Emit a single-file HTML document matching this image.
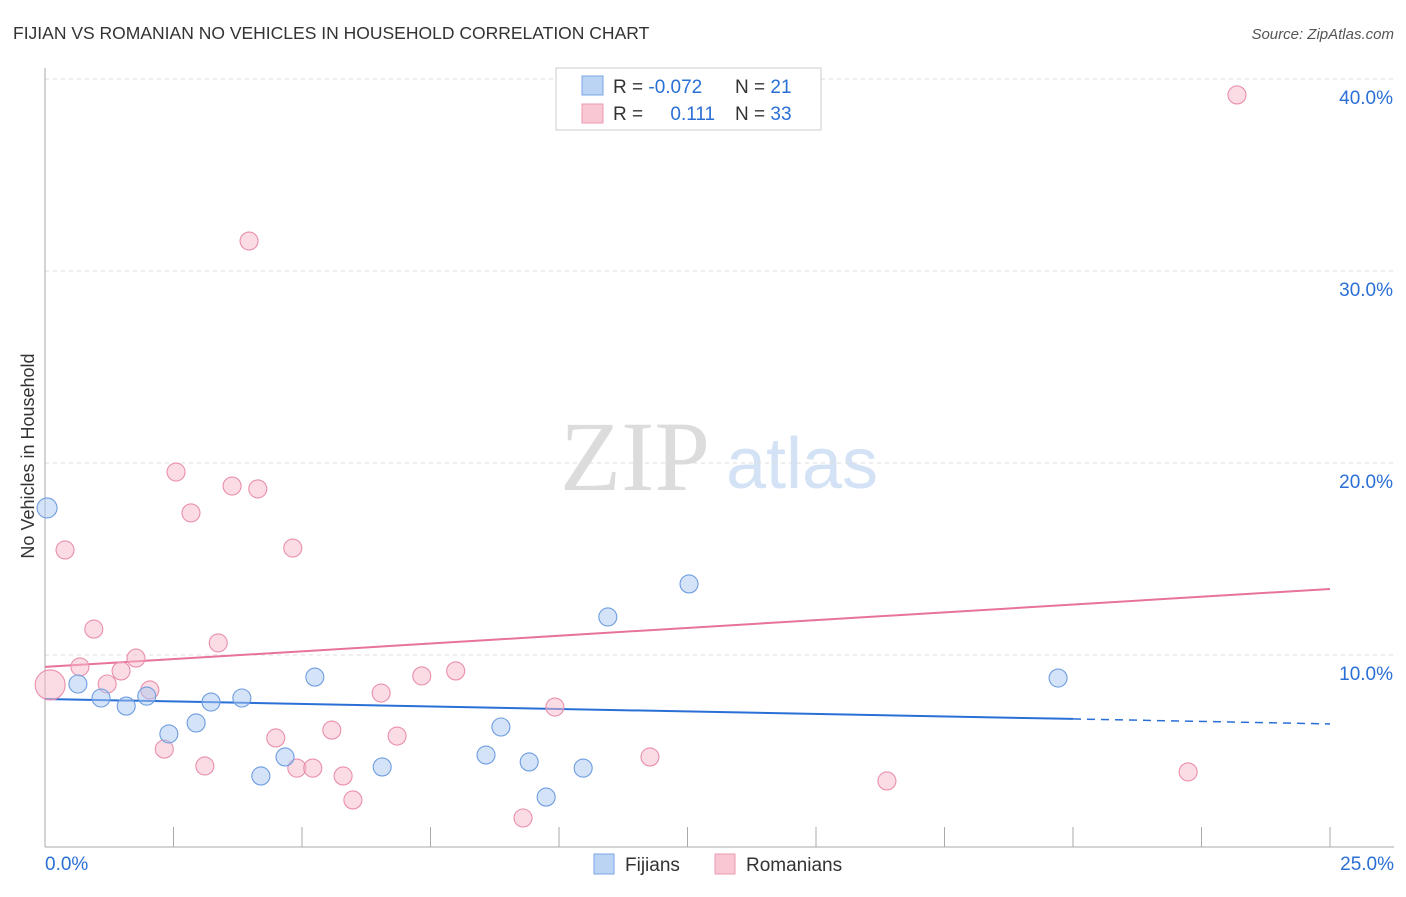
<!DOCTYPE html>
<html><head><meta charset="utf-8"><style>
body{margin:0;background:#fff;font-family:"Liberation Sans",sans-serif;}
svg text{font-family:"Liberation Sans",sans-serif;}
</style></head><body>
<svg id="chart" width="1406" height="892" viewBox="0 0 1406 892">
<text x="13" y="39" font-size="17.5" fill="#333">FIJIAN VS ROMANIAN NO VEHICLES IN HOUSEHOLD CORRELATION CHART</text>
<text x="1394" y="39" font-size="15" fill="#555" text-anchor="end" font-style="italic">Source: ZipAtlas.com</text>
<text transform="translate(34,456) rotate(-90)" font-size="18" fill="#333" text-anchor="middle">No Vehicles in Household</text>
<g>
<text x="635" y="490" font-size="100" fill="#dcdcdc" text-anchor="middle" style="font-family:'Liberation Serif',serif">ZIP</text>
<text x="802" y="488" font-size="72" fill="#d4e2f6" text-anchor="middle">atlas</text>
</g>
<g id="grid"></g><g id="axes"></g><g id="lines"></g><g id="points"></g>
<g>
<rect x="556" y="68" width="265" height="62" fill="#fff" stroke="#ccc"/>
<rect x="582" y="76" width="21" height="19" fill="#bcd4f4" stroke="#7aa6e4"/>
<rect x="582" y="104" width="21" height="19" fill="#f9c6d4" stroke="#ec9ab2"/>
<text x="613" y="93" font-size="19" fill="#333">R = <tspan fill="#2a6fd6">-0.072</tspan></text>
<text x="735" y="93" font-size="19" fill="#333">N = <tspan fill="#2a6fd6"> 21</tspan></text>
<text x="613" y="120" font-size="19" fill="#333">R = <tspan fill="#2a6fd6" dx="22">0.111</tspan></text>
<text x="735" y="120" font-size="19" fill="#333">N = <tspan fill="#2a6fd6">33</tspan></text>
</g>
<g>
<rect x="594" y="854" width="20" height="20" fill="#bcd4f4" stroke="#7aa6e4"/>
<text x="625" y="871" font-size="19" fill="#333">Fijians</text>
<rect x="715" y="854" width="20" height="20" fill="#f9c6d4" stroke="#ec9ab2"/>
<text x="746" y="871" font-size="19" fill="#333">Romanians</text>
</g>
</svg>
<script>
const yTicks=[10,20,30,40];
const yTickLabels=["10.0%","20.0%","30.0%","40.0%"];
const xTickVals=[0,2.5,5,7.5,10,12.5,15,17.5,20,22.5,25];
const fijianX=[0.04,0.64,1.09,1.58,1.98,2.41,2.94,3.23,3.83,4.2,4.67,5.25,6.56,8.58,8.87,9.42,9.75,10.47,10.95,12.53,19.71];
const fijianY=[17.66,8.49,7.76,7.34,7.86,5.89,6.46,7.55,7.76,3.70,4.69,8.85,4.17,4.79,6.25,4.43,2.60,4.11,11.98,13.70,8.80];
const romanianX=[0.1,0.39,0.95,0.68,1.21,1.48,1.77,2.04,2.32,2.55,2.84,3.11,3.37,3.64,3.97,4.14,4.49,4.82,4.9,5.21,5.58,5.8,5.99,6.54,6.85,7.33,7.99,9.3,9.92,11.77,16.38,22.24,23.19];
const romanianY=[8.44,15.47,11.35,9.38,8.49,9.17,9.84,8.18,5.10,19.53,17.40,4.22,10.63,18.80,31.56,18.65,5.68,15.57,4.11,4.11,6.09,3.70,2.45,8.02,5.78,8.91,9.17,1.51,7.29,4.69,3.44,3.91,39.17];
const fijianTrend=[7.71,6.41];
const romanianTrend=[9.38,13.44];
const NS="http://www.w3.org/2000/svg";
const xs=v=>45+v/25*1285, ys=v=>847-v*19.2;
function mk(p,t,a){const e=document.createElementNS(NS,t);for(const k in a)e.setAttribute(k,a[k]);p.appendChild(e);return e;}
const grid=document.getElementById('grid'),axes=document.getElementById('axes'),lines=document.getElementById('lines'),pts=document.getElementById('points');
yTicks.forEach((v,i)=>{
 const l=mk(grid,'line',{x1:45,x2:1394,y1:ys(v),y2:ys(v),stroke:'#ddd','stroke-dasharray':'4,4'});
 
 
 const t=mk(axes,'text',{x:1393,y:ys(v)+25,'font-size':19,fill:'#2a6fd6','text-anchor':'end'});
 t.textContent=yTickLabels[i];
 
 
});
const ya=mk(axes,'line',{x1:45,x2:45,y1:68,y2:847,stroke:'#aaa'});


const xa=mk(axes,'line',{x1:45,x2:1394,y1:847,y2:847,stroke:'#aaa'});


xTickVals.forEach(v=>{const t=mk(axes,'line',{x1:xs(v),x2:xs(v),y1:827,y2:847,stroke:'#aaa'});
 
 });
const x0=mk(axes,'text',{x:45,y:870,'font-size':19,fill:'#2a6fd6'});x0.textContent='0.0%';


const x1=mk(axes,'text',{x:1394,y:870,'font-size':19,fill:'#2a6fd6','text-anchor':'end'});x1.textContent='25.0%';


function trend(tr,color,name,split){
 const f=x=>tr[0]+(tr[1]-tr[0])*x/25;
 const a=mk(lines,'line',{x1:xs(0),y1:ys(f(0)),x2:xs(split),y2:ys(f(split)),stroke:color,'stroke-width':2});
 
 
 if(split<25){const b=mk(lines,'line',{x1:xs(split),y1:ys(f(split)),x2:xs(25),y2:ys(f(25)),stroke:color,'stroke-width':1.5,'stroke-dasharray':'8,6'});
 
 }
}
function points(X,Y,fill,stroke,name){
 X.forEach((x,i)=>{const r=(x<0.2)?(name==='romanian-point'?15:10):9;
  const c=mk(pts,'circle',{cx:xs(x),cy:ys(Y[i]),r:r,fill:fill,stroke:stroke,'stroke-width':1.1,'fill-opacity':0.5});
  
  });
}
points(romanianX,romanianY,'#f7b9cb','#e98fab','romanian-point');
points(fijianX,fijianY,'#a9c8f1','#6d9de0','fijian-point');
trend(romanianTrend,'#e8739a','romanian-trendline',25);
trend(fijianTrend,'#2a6fd6','fijian-trendline',20);
</script>
</body></html>
